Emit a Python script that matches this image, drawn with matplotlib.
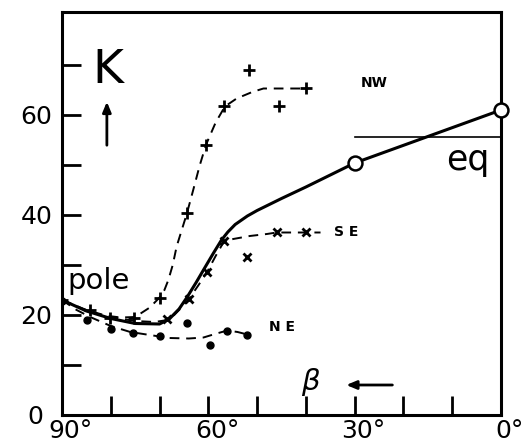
import matplotlib
matplotlib.use("Agg")
import matplotlib.pyplot as plt
import matplotlib.transforms as mtransforms

# mediciones (beta en grados, K)
nw_beta = [90, 84.3, 80.2, 75.2, 70.0, 64.4, 60.5, 56.7, 51.7, 45.5, 40.0]
nw_k = [23.0, 21.0, 19.5, 19.5, 23.4, 40.3, 53.9, 61.7, 68.9, 61.8, 65.3]

se_beta = [68.5, 63.9, 60.2, 56.8, 52.1, 46.0, 40.0]
se_k = [19.3, 23.3, 28.6, 34.7, 31.7, 36.5, 36.5]

ne_beta = [90, 84.8, 80.0, 75.5, 70.0, 64.4, 59.6, 56.1, 52.0]
ne_k = [22.9, 19.1, 17.3, 16.4, 15.9, 18.5, 14.1, 16.9, 16.1]

eq_beta = [30, 0]
eq_k = [50.4, 61.0]

# curvas trazadas a mano
nw_curva_beta = [90, 86, 82, 78, 75, 72, 70, 69, 68.2, 67.3, 66.5, 64.4, 63.1,
                 61.8, 60.5, 58.5, 56.6, 54.2, 51, 48.7, 40]
nw_curva_k = [23, 21.3, 20.0, 19.5, 19.6, 21.5, 23.5, 25, 27, 30, 33.7, 40.3,
              45, 49.8, 54, 58.5, 61.7, 63.3, 64.6, 65.3, 65.3]

se_curva_beta = [90, 85, 80, 75, 71, 69, 67, 65.5, 63.9, 62, 60.2, 58.5,
                 56.8, 54.9, 51.5, 48, 46, 40, 37]
se_curva_k = [23, 21, 19.6, 18.8, 18.6, 18.9, 20, 21.5, 23.3, 26, 28.7, 31.8,
              34.7, 35.2, 35.8, 36.2, 36.5, 36.5, 36.5]

ne_curva_beta = [90, 87, 84, 80, 76, 72, 68, 64, 61, 58.3, 56.1, 54, 52]
ne_curva_k = [23, 21, 19.5, 17.8, 16.6, 16.0, 15.4, 15.3, 15.5, 16.3, 16.9,
              16.6, 16.1]

media_beta = [90, 85, 80, 75, 70, 68, 66, 64.4, 62.5, 61, 59, 57.3, 56, 54.5,
              52, 50, 47.5, 45, 40, 35, 30, 0]
media_k = [23, 20.8, 19.3, 18.3, 18.2, 19.2, 21.2, 23.5, 26.5, 29, 32.3, 35,
           36.6, 38.1, 39.8, 40.9, 42.1, 43.3, 45.6, 48, 50.4, 61]

eq_nivel = 55.6

fig = plt.figure(figsize=(5.26, 4.45), dpi=100)
ax = fig.add_axes([62 / 526, 1 - 415 / 445, (501 - 62) / 526, (415 - 12) / 445])

# curvas
ax.plot(nw_curva_beta, nw_curva_k, color="black", lw=1.4, ls=(0, (5, 3.5)))
ax.plot(se_curva_beta, se_curva_k, color="black", lw=1.4, ls=(0, (5, 3.5)))
ax.plot(ne_curva_beta, ne_curva_k, color="black", lw=1.4, ls=(0, (5, 3.5)))
ax.plot(media_beta, media_k, color="black", lw=2.2, solid_capstyle="round",
        solid_joinstyle="round")

# puntos
ax.plot(nw_beta, nw_k, ls="none", marker="+", ms=9, mew=2, color="black")
ax.plot(se_beta, se_k, ls="none", marker="x", ms=6, mew=2, color="black")
ax.plot(ne_beta, ne_k, ls="none", marker="o", ms=5, color="black")
ax.plot(eq_beta, eq_k, ls="none", marker="o", ms=10, mew=1.8,
        mfc="white", mec="black", clip_on=False, zorder=5)

# linea de equilibrio
ax.plot([30, 0], [eq_nivel, eq_nivel], color="black", lw=1.2)

# textos
ax.text(80.5, 68.8, "K", fontsize=34, ha="center", va="center")
ax.annotate("", xy=(80.8, 63.2), xytext=(80.8, 53.4),
            arrowprops=dict(arrowstyle="-|>,head_length=0.6,head_width=0.25",
                            lw=2, color="black"))
ax.text(38.9, 6.6, r"$\beta$", fontsize=21, ha="center", va="center")
ax.annotate("", xy=(32.3, 6.0), xytext=(21.7, 6.0),
            arrowprops=dict(arrowstyle="-|>,head_length=0.6,head_width=0.25",
                            lw=2, color="black"))
ax.text(89.0, 26.8, "pole", fontsize=21, ha="left", va="center")
ax.text(6.8, 51.0, "eq", fontsize=25, ha="center", va="center")
ax.text(26.0, 66.4, "NW", fontsize=10, fontweight="bold", ha="center", va="center")
ax.text(31.8, 36.6, "S E", fontsize=10, fontweight="bold", ha="center", va="center")
ax.text(44.9, 17.6, "N E", fontsize=10, fontweight="bold", ha="center", va="center")

# ejes
ax.set_xlim(90, 0)
ax.set_ylim(0, 80.6)
ax.set_xticks([90, 60, 30, 0])
ax.set_xticklabels(["90°", "60°", "30°", "0°"])
ax.set_xticks([80, 70, 50, 40, 20, 10], minor=True)
ax.set_yticks([0, 20, 40, 60])
ax.set_yticks([10, 30, 50, 70], minor=True)
ax.tick_params(which="both", direction="in", length=14, width=2)
ax.tick_params(axis="x", which="major", labelsize=18, pad=3)
ax.tick_params(axis="y", which="major", labelsize=18, pad=7)
for s in ax.spines.values():
    s.set_linewidth(2.2)

desp = mtransforms.ScaledTranslation(9 / 100, 0, fig.dpi_scale_trans)
for lab in ax.get_xticklabels():
    lab.set_transform(lab.get_transform() + desp)
cero = ax.get_yticklabels()[0]
cero.set_transform(cero.get_transform() + mtransforms.ScaledTranslation(-9 / 100, 0, fig.dpi_scale_trans))

fig.savefig("out.png", dpi=100)
plt.close(fig)
